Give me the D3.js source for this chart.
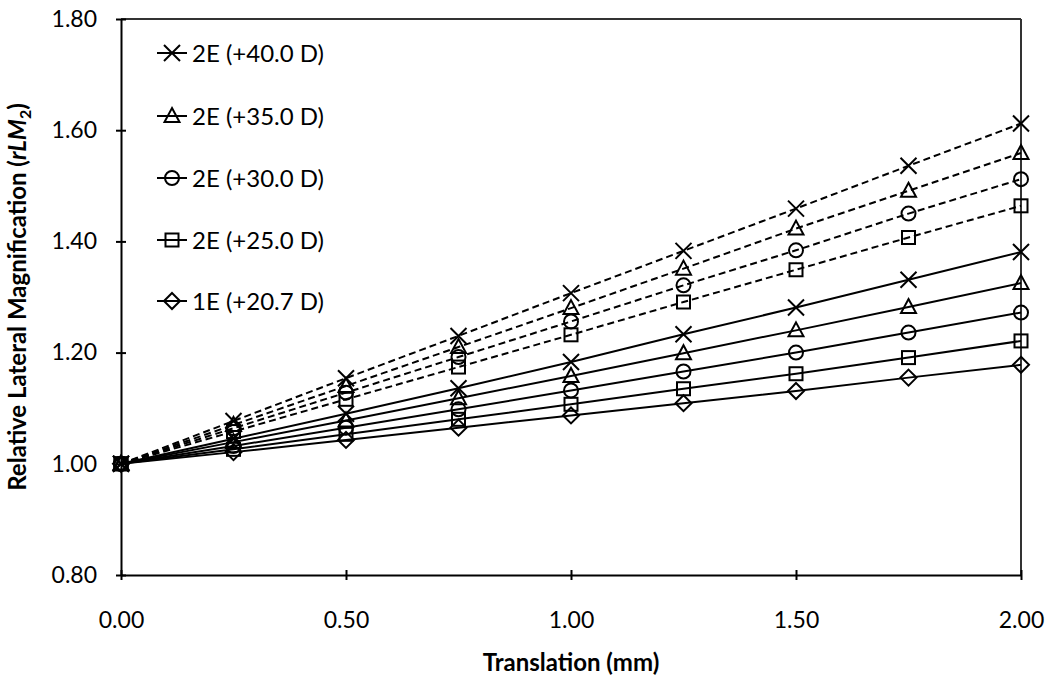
<!DOCTYPE html>
<html><head><meta charset="utf-8">
<script src="https://cdn.jsdelivr.net/npm/d3@7"></script>
<style>body{margin:0;background:#fff}svg{display:block}text{font-family:Lato,"Open Sans",sans-serif}</style>
</head><body><svg id="c" width="1050" height="686"></svg>
<script>
const xValues = [0, 0.25, 0.5, 0.75, 1.0, 1.25, 1.5, 1.75, 2.0];
const xTicks = [0, 0.5, 1.0, 1.5, 2.0];
const yTicks = [0.8, 1.0, 1.2, 1.4, 1.6, 1.8];
const legendLabels = ["2E (+40.0 D)", "2E (+35.0 D)", "2E (+30.0 D)", "2E (+25.0 D)", "1E (+20.7 D)"];
const legendMarkers = ["x", "tri", "circ", "sq", "dia"];

// dashed series
const dashX    = [1, 1.077, 1.154, 1.230, 1.307, 1.383, 1.459, 1.536, 1.612];
const dashTri  = [1, 1.070, 1.140, 1.210, 1.280, 1.351, 1.423, 1.491, 1.559];
const dashCirc = [1, 1.064, 1.128, 1.192, 1.256, 1.321, 1.384, 1.450, 1.512];
const dashSq   = [1, 1.058, 1.116, 1.174, 1.232, 1.291, 1.349, 1.407, 1.464];
// solid series
const solX     = [1, 1.045, 1.090, 1.136, 1.183, 1.233, 1.281, 1.331, 1.381];
const solTri   = [1, 1.039, 1.078, 1.118, 1.158, 1.199, 1.240, 1.282, 1.325];
const solCirc  = [1, 1.032, 1.065, 1.098, 1.132, 1.166, 1.200, 1.236, 1.272];
const solSq    = [1, 1.026, 1.053, 1.080, 1.107, 1.135, 1.162, 1.191, 1.221];
const solDia   = [1, 1.021, 1.043, 1.065, 1.087, 1.109, 1.131, 1.155, 1.178];

const series = [
  {v: dashX, m: "x", dash: true}, {v: dashTri, m: "tri", dash: true},
  {v: dashCirc, m: "circ", dash: true}, {v: dashSq, m: "sq", dash: true},
  {v: solX, m: "x", dash: false}, {v: solTri, m: "tri", dash: false},
  {v: solCirc, m: "circ", dash: false}, {v: solSq, m: "sq", dash: false},
  {v: solDia, m: "dia", dash: false}
];

const svg = d3.select("#c");
const L = 121, R = 1021, T = 19, B = 575;
const x = d3.scaleLinear().domain([0, 2]).range([L, R]);
const y = d3.scaleLinear().domain([0.8, 1.8]).range([B, T]);

// frame top/right
svg.append("line").attr("x1", L).attr("x2", R).attr("y1", T).attr("y2", T).attr("stroke", "#333").attr("stroke-width", 2);
svg.append("line").attr("x1", R).attr("x2", R).attr("y1", T).attr("y2", B).attr("stroke", "#333").attr("stroke-width", 2);

// axes
const yAxis = svg.append("g").attr("transform", `translate(${L},0)`)
  .call(d3.axisLeft(y).tickValues(yTicks).tickFormat(d3.format(".2f")).tickSizeInner(0).tickSizeOuter(0).tickPadding(24));
yAxis.select(".domain").attr("stroke", "#000").attr("stroke-width", 2);
yAxis.selectAll(".tick").append("line").attr("x1", -5).attr("x2", 5).attr("stroke", "#000").attr("stroke-width", 2);
yAxis.selectAll("text").attr("font-size", 23).attr("fill", "#000");

const xAxis = svg.append("g").attr("transform", `translate(0,${B})`)
  .call(d3.axisBottom(x).tickValues(xTicks).tickFormat(d3.format(".2f")).tickSizeInner(0).tickSizeOuter(0).tickPadding(37));
xAxis.select(".domain").attr("stroke", "#000").attr("stroke-width", 2);
xAxis.selectAll(".tick").append("line").attr("y1", -5).attr("y2", 5).attr("stroke", "#000").attr("stroke-width", 2);
xAxis.selectAll("text").attr("font-size", 23).attr("fill", "#000");

// titles
svg.append("text").attr("x", (L + R) / 2).attr("y", 671).attr("text-anchor", "middle")
  .attr("font-size", 24).attr("font-weight", "bold").text("Translation (mm)");
const yt = svg.append("text").attr("transform", `translate(26,${(T + B) / 2}) rotate(-90)`)
  .attr("text-anchor", "middle").attr("font-size", 24).attr("font-weight", "bold");
yt.append("tspan").text("Relative Lateral Magnification (");
yt.append("tspan").attr("font-style", "italic").text("rLM");
yt.append("tspan").attr("font-size", 16).attr("dy", 5).text("2");
yt.append("tspan").attr("dy", -5).text(")");

function marker(g, type, cx, cy) {
  const s = {stroke: "#000", "stroke-width": 2, fill: "none"};
  let el;
  if (type === "x") {
    el = g.append("path").attr("d", `M${cx-8},${cy-8}L${cx+8},${cy+8}M${cx-8},${cy+8}L${cx+8},${cy-8}`);
  } else if (type === "tri") {
    el = g.append("path").attr("d", `M${cx},${cy-8}L${cx+7.5},${cy+6}L${cx-7.5},${cy+6}Z`);
  } else if (type === "circ") {
    el = g.append("circle").attr("cx", cx).attr("cy", cy).attr("r", 7);
  } else if (type === "sq") {
    el = g.append("rect").attr("x", cx - 6.5).attr("y", cy - 6.5).attr("width", 13).attr("height", 13);
  } else {
    el = g.append("path").attr("d", `M${cx},${cy-8}L${cx+8},${cy}L${cx},${cy+8}L${cx-8},${cy}Z`);
  }
  Object.entries(s).forEach(([k, v]) => el.attr(k, v));
}

const line = d3.line().x((d, i) => x(xValues[i])).y(d => y(d));
const lg = svg.append("g");
series.forEach(s => {
  lg.append("path").attr("d", line(s.v)).attr("fill", "none").attr("stroke", "#000")
    .attr("stroke-width", 2).attr("stroke-dasharray", s.dash ? "7,4" : null);
});
const mg = svg.append("g");
series.forEach(s => {
  s.v.forEach((v, i) => marker(mg, s.m, x(xValues[i]), y(v)));
});

// legend
const legY = [53, 116, 178, 240, 301];
legendLabels.forEach((lab, i) => {
  const g = svg.append("g");
  g.append("line").attr("x1", 157).attr("x2", 187).attr("y1", legY[i]).attr("y2", legY[i]).attr("stroke", "#000").attr("stroke-width", 2);
  marker(g, legendMarkers[i], 172, legY[i]);
  g.append("text").attr("x", 192).attr("y", legY[i]).attr("dy", "0.36em").attr("font-size", 24).text(lab);
});
</script></body></html>
